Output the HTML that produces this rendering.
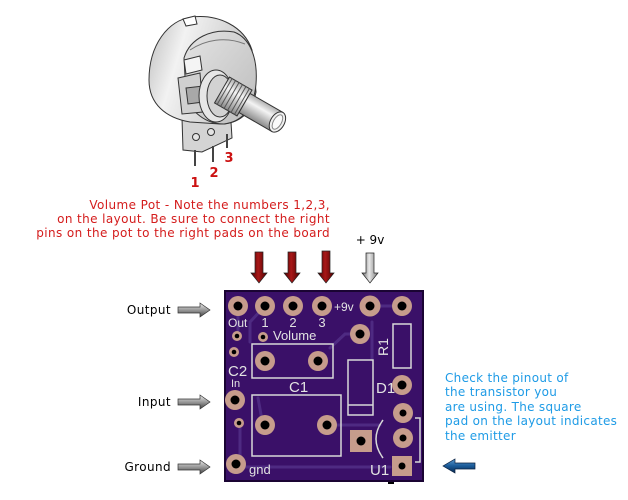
<!DOCTYPE html>
<html><head><meta charset="utf-8"><style>
html,body{margin:0;padding:0;background:#fff;}
svg{display:block;}
</style></head><body>
<svg width="628" height="500" viewBox="0 0 628 500" xmlns="http://www.w3.org/2000/svg">
<defs>
<linearGradient id="redA" x1="0" y1="0" x2="1" y2="0"><stop offset="0" stop-color="#4a0000"/><stop offset="0.45" stop-color="#a81818"/><stop offset="1" stop-color="#500000"/></linearGradient>
<linearGradient id="grayA" x1="0" y1="0" x2="1" y2="0"><stop offset="0" stop-color="#666"/><stop offset="0.45" stop-color="#e8e8e8"/><stop offset="1" stop-color="#777"/></linearGradient>
<linearGradient id="grayH" x1="0" y1="0" x2="0" y2="1"><stop offset="0" stop-color="#eee"/><stop offset="0.5" stop-color="#999"/><stop offset="1" stop-color="#444"/></linearGradient>
<linearGradient id="blueH" x1="0" y1="0" x2="0" y2="1"><stop offset="0" stop-color="#5a9ad0"/><stop offset="0.5" stop-color="#1a5a98"/><stop offset="1" stop-color="#0a2a50"/></linearGradient>
<linearGradient id="body" x1="0" y1="0" x2="1" y2="0.3"><stop offset="0" stop-color="#bdbdbd"/><stop offset="0.35" stop-color="#f2f2f2"/><stop offset="1" stop-color="#c4c4c4"/></linearGradient>
<linearGradient id="face" x1="0" y1="0" x2="1" y2="1"><stop offset="0" stop-color="#e4e4e4"/><stop offset="1" stop-color="#bcbcbc"/></linearGradient>
<linearGradient id="shaft" x1="0" y1="0" x2="0" y2="1"><stop offset="0" stop-color="#b0b0b0"/><stop offset="0.35" stop-color="#f4f4f4"/><stop offset="1" stop-color="#8a8a8a"/></linearGradient>
</defs>

<!-- Potentiometer -->
<g stroke="#333" stroke-width="1">
  <!-- bracket plate -->
  <path d="M182 118 L230 106 L232 138 L202 152 L183 150 Z" fill="#d4d4d4"/>
  <line x1="195" y1="150" x2="195" y2="166" stroke="#444" stroke-width="2"/>
  <line x1="213" y1="146" x2="213" y2="162" stroke="#444" stroke-width="2"/>
  <line x1="227" y1="134" x2="227" y2="148" stroke="#444" stroke-width="2"/>
  <circle cx="196" cy="137" r="3.5" fill="#e4e4e4"/>
  <circle cx="211" cy="132" r="3.5" fill="#e4e4e4"/>
  <circle cx="224" cy="121" r="3" fill="#e4e4e4"/>
  <!-- body back cylinder -->
  <path d="M149 80 C149 45 168 20 192 17 C218 14 244 26 252 50 L256 92 C252 114 238 124 220 124 L190 122 C166 118 149 104 149 80 Z" fill="url(#body)"/>
  <path d="M183 19 L195 16 L197 24 L186 26 Z" fill="#fff"/>
  <!-- front face -->
  <path d="M184 58 C190 38 212 28 234 32 C250 38 258 58 256 84 C254 108 242 122 224 124 C206 124 190 112 186 95 Z" fill="url(#face)"/>
  <path d="M190 50 C205 40 225 36 245 44" fill="none" stroke="#777"/>
  <path d="M184 60 L200 56 L202 70 L186 74 Z" fill="#f4f4f4"/>
  <path d="M178 78 L200 73 L203 112 L182 114 Z" fill="#d0d0d0"/>
  <path d="M186 88 L203 86 L203 102 L188 104 Z" fill="#a8a8a8"/>
  <!-- washer / nut -->
  <ellipse cx="216" cy="96" rx="17" ry="26" fill="#e6e6e6"/>
  <ellipse cx="220" cy="96" rx="13" ry="21" fill="#d2d2d2"/>
  <!-- threaded bushing + shaft -->
  <g transform="translate(222,90) rotate(30)">
    <rect x="0" y="-15" width="26" height="30" fill="url(#shaft)"/>
    <g stroke="#555" stroke-width="1">
      <line x1="3" y1="-15" x2="3" y2="15"/><line x1="7" y1="-15" x2="7" y2="15"/>
      <line x1="11" y1="-15" x2="11" y2="15"/><line x1="15" y1="-15" x2="15" y2="15"/>
      <line x1="19" y1="-15" x2="19" y2="15"/><line x1="23" y1="-15" x2="23" y2="15"/>
    </g>
    <rect x="26" y="-11" width="38" height="22" fill="url(#shaft)"/>
    <ellipse cx="64" cy="0" rx="7" ry="11" fill="#f0f0f0"/>
    <ellipse cx="64" cy="0" rx="4" ry="8" fill="#fafafa" stroke="#888"/>
  </g>
</g>
<g font-family="'DejaVu Sans', 'Liberation Sans', sans-serif" font-weight="bold" font-size="13" fill="#cc1111" text-anchor="middle">
  <text x="195" y="187">1</text>
  <text x="214" y="177">2</text>
  <text x="229" y="162">3</text>
</g>

<!-- Red text -->
<g font-family="'DejaVu Sans', 'Liberation Sans', sans-serif" font-size="12" fill="#d41c1c" text-anchor="end" letter-spacing="0.4">
  <text x="330" y="209">Volume Pot - Note the numbers 1,2,3,</text>
  <text x="330" y="223">on the layout. Be sure to connect the right</text>
  <text x="330" y="237">pins on the pot to the right pads on the board</text>
</g>
<text x="370" y="244" font-family="'DejaVu Sans', sans-serif" font-size="12" fill="#000" text-anchor="middle">+ 9v</text>

<!-- down arrows -->
<g stroke="#222" stroke-width="0.7">
  <path d="M255 252 H263 V273 H267 L259 283 L251 273 H255 Z" fill="url(#redA)"/>
  <path d="M288 252 H296 V273 H300 L292 283 L284 273 H288 Z" fill="url(#redA)"/>
  <path d="M322 251 H330 V273 H334 L326 283 L318 273 H322 Z" fill="url(#redA)"/>
  <path d="M366 253 H374 V273 H378 L370 283 L362 273 H366 Z" fill="url(#grayA)"/>
</g>

<!-- left labels -->
<g font-family="'DejaVu Sans', sans-serif" font-size="12" fill="#000" text-anchor="end" letter-spacing="0.4">
  <text x="171" y="314">Output</text>
  <text x="171" y="406">Input</text>
  <text x="171" y="471">Ground</text>
</g>
<g stroke="#333" stroke-width="0.7" fill="url(#grayH)">
  <path d="M178 307 H200 V303 L210 310 L200 317 V313 H178 Z"/>
  <path d="M178 399 H200 V395 L210 402 L200 409 V405 H178 Z"/>
  <path d="M178 464 H200 V460 L210 467 L200 474 V470 H178 Z"/>
</g>

<!-- blue text -->
<g font-family="'DejaVu Sans', sans-serif" font-size="12" fill="#1e9be6" letter-spacing="0.3">
  <text x="445" y="382">Check the pinout of</text>
  <text x="445" y="396">the transistor you</text>
  <text x="445" y="411">are using. The square</text>
  <text x="445" y="425">pad on the layout indicates</text>
  <text x="445" y="440">the emitter</text>
</g>
<path d="M475 463 H455 V459 L443 466 L455 473 V469 H475 Z" fill="url(#blueH)" stroke="#0a2040" stroke-width="0.7"/>

<!-- Board -->
<rect x="225" y="291" width="198" height="190" fill="#3a1068" stroke="#1a0433" stroke-width="2"/>
<g stroke="#4e2a82" stroke-width="3" fill="none" stroke-linecap="round">
  <path d="M265 306 L250 322 L250 342"/>
  <path d="M238 306 L238 330"/>
  <path d="M370 306 L402 306"/>
  <path d="M360 334 L345 334 L330 348"/>
  <path d="M372 322 L372 360"/>
  <path d="M330 425 L380 425"/>
  <path d="M245 467 L390 467"/>
  <path d="M240 420 L240 460"/>
  <path d="M258 398 L262 420"/>
</g>
<g stroke="#d8d8d8" stroke-width="1.5" fill="none">
  <rect x="252" y="344" width="81" height="34"/>
  <rect x="252" y="395" width="89" height="61"/>
  <rect x="393" y="324" width="18" height="44"/>
  <rect x="348" y="360" width="25" height="55"/>
  <line x1="348" y1="405" x2="373" y2="405"/>
  <path d="M383 420 Q369 439 383 458"/>
  <path d="M415 418 H420 V462 H415"/>
</g>
<g fill="#c69c8c">
  <circle cx="238" cy="306" r="10"/><circle cx="265" cy="306" r="10"/>
  <circle cx="293" cy="306" r="10"/><circle cx="322" cy="306" r="10"/>
  <circle cx="370" cy="306" r="10.5"/><circle cx="402" cy="306" r="10"/>
  <circle cx="360" cy="334" r="10"/>
  <circle cx="237" cy="336" r="5"/><circle cx="263" cy="337" r="5"/>
  <circle cx="234" cy="352" r="5"/><circle cx="239" cy="423" r="5"/>
  <circle cx="265" cy="361" r="10"/><circle cx="318" cy="361" r="10"/>
  <circle cx="235" cy="400" r="10"/><circle cx="236" cy="464" r="10"/>
  <circle cx="265" cy="425" r="10"/><circle cx="327" cy="425" r="10"/>
  <circle cx="402" cy="385" r="10"/>
  <circle cx="403" cy="413" r="10"/><circle cx="403" cy="438" r="10"/>
  <rect x="392" y="456" width="20" height="20"/>
  <rect x="350" y="430" width="22" height="22"/>
</g>
<g fill="#000">
  <circle cx="238" cy="306" r="4.5"/><circle cx="265" cy="306" r="4.5"/>
  <circle cx="293" cy="306" r="4.5"/><circle cx="322" cy="306" r="4.5"/>
  <circle cx="370" cy="306" r="4.5"/><circle cx="402" cy="306" r="4.5"/>
  <circle cx="360" cy="334" r="4.5"/>
  <circle cx="237" cy="336" r="2.3"/><circle cx="263" cy="337" r="2.3"/>
  <circle cx="234" cy="352" r="2.3"/><circle cx="239" cy="423" r="2.3"/>
  <circle cx="265" cy="361" r="4.5"/><circle cx="318" cy="361" r="4.5"/>
  <circle cx="235" cy="400" r="4.5"/><circle cx="236" cy="464" r="4.5"/>
  <circle cx="265" cy="425" r="4.5"/><circle cx="327" cy="425" r="4.5"/>
  <circle cx="402" cy="385" r="4.5"/>
  <circle cx="403" cy="413" r="3.5"/><circle cx="403" cy="438" r="3.5"/>
  <circle cx="402" cy="466" r="3.5"/><circle cx="361" cy="441" r="4.5"/>
</g>
<g font-family="'Liberation Sans', sans-serif" fill="#e2e2e2">
  <text x="228" y="327" font-size="12">Out</text>
  <text x="265" y="327" font-size="13" text-anchor="middle">1</text>
  <text x="293" y="327" font-size="13" text-anchor="middle">2</text>
  <text x="322" y="327" font-size="13" text-anchor="middle">3</text>
  <text x="273" y="340" font-size="13">Volume</text>
  <text x="334" y="311" font-size="12">+9v</text>
  <text x="228" y="376" font-size="15">C2</text>
  <text x="231" y="387" font-size="11">In</text>
  <text x="289" y="392" font-size="15">C1</text>
  <text x="376" y="393" font-size="15">D1</text>
  <text x="370" y="475" font-size="15">U1</text>
  <text x="249" y="474" font-size="13">gnd</text>
  <text transform="translate(388,347) rotate(-90)" font-size="14" text-anchor="middle">R1</text>
</g>
<rect x="388" y="482" width="6" height="2" fill="#000"/>
</svg>
</body></html>
